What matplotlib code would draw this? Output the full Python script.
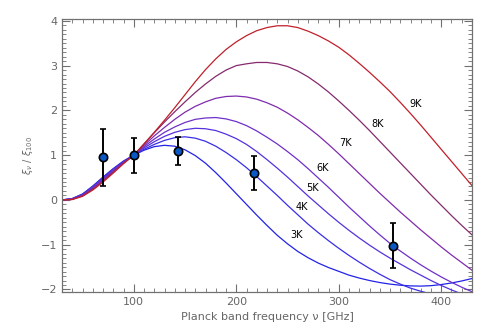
import matplotlib
matplotlib.use("Agg")
import matplotlib.pyplot as plt
from matplotlib.ticker import MultipleLocator

# ---------------- data ----------------
freq = [30, 40, 50, 60, 70, 80, 90, 100, 110, 120, 130, 140, 150, 160, 170, 180,
        190, 200, 210, 220, 230, 240, 250, 260, 270, 280, 290, 300, 310, 320,
        330, 340, 350, 360, 370, 380, 390, 400, 410, 420, 430]

curve_3K = [0.00, 0.03, 0.13, 0.31, 0.51, 0.70, 0.87, 1.00, 1.11, 1.19, 1.22, 1.20, 1.12,
            0.99, 0.82, 0.61, 0.38, 0.14, -0.10, -0.34, -0.57, -0.79, -0.98, -1.15, -1.29,
            -1.41, -1.51, -1.595, -1.68, -1.745, -1.80, -1.845, -1.88, -1.905, -1.92, -1.925,
            -1.915, -1.89, -1.855, -1.81, -1.755]
curve_4K = [0.00, 0.03, 0.13, 0.30, 0.50, 0.69, 0.86, 1.00, 1.13, 1.24, 1.33, 1.39, 1.41,
            1.38, 1.31, 1.20, 1.06, 0.90, 0.72, 0.52, 0.31, 0.10, -0.12, -0.33, -0.54,
            -0.73, -0.91, -1.08, -1.24, -1.39, -1.53, -1.66, -1.78, -1.88, -1.97, -2.04,
            -2.10, -2.15, -2.19, -2.22, -2.24]
curve_5K = [0.00, 0.02, 0.12, 0.29, 0.48, 0.68, 0.85, 1.00, 1.16, 1.30, 1.42, 1.51, 1.57,
            1.60, 1.59, 1.55, 1.47, 1.37, 1.24, 1.08, 0.90, 0.71, 0.51, 0.30, 0.09,
            -0.11, -0.31, -0.50, -0.68, -0.85, -1.01, -1.16, -1.30, -1.43, -1.56, -1.68,
            -1.80, -1.91, -2.01, -2.10, -2.18]
curve_6K = [0.00, 0.02, 0.11, 0.27, 0.46, 0.66, 0.84, 1.00, 1.19, 1.36, 1.51, 1.63, 1.73,
            1.80, 1.83, 1.84, 1.81, 1.75, 1.66, 1.54, 1.40, 1.25, 1.08, 0.90, 0.70,
            0.49, 0.28, 0.06, -0.16, -0.37, -0.58, -0.78, -0.97, -1.14, -1.30, -1.45,
            -1.59, -1.72, -1.84, -1.95, -2.05]
curve_7K = [0.00, 0.02, 0.10, 0.25, 0.44, 0.64, 0.83, 1.00, 1.22, 1.43, 1.62, 1.80, 1.96,
            2.09, 2.19, 2.27, 2.31, 2.32, 2.30, 2.25, 2.17, 2.07, 1.94, 1.79, 1.62,
            1.44, 1.24, 1.03, 0.81, 0.59, 0.37, 0.15, -0.06, -0.27, -0.47, -0.67,
            -0.86, -1.05, -1.23, -1.40, -1.57]
curve_8K = [0.00, 0.01, 0.09, 0.24, 0.42, 0.62, 0.82, 1.00, 1.25, 1.50, 1.74, 1.97, 2.19,
            2.40, 2.59, 2.76, 2.90, 3.00, 3.04, 3.07, 3.07, 3.04, 2.98, 2.88, 2.75,
            2.59, 2.41, 2.21, 2.00, 1.78, 1.55, 1.31, 1.07, 0.83, 0.59, 0.35, 0.11,
            -0.12, -0.35, -0.57, -0.78]
curve_9K = [0.00, 0.01, 0.08, 0.22, 0.40, 0.60, 0.81, 1.00, 1.25, 1.51, 1.78, 2.06, 2.35,
            2.64, 2.91, 3.15, 3.36, 3.53, 3.67, 3.78, 3.85, 3.89, 3.89, 3.85, 3.77,
            3.67, 3.55, 3.41, 3.24, 3.05, 2.85, 2.64, 2.42, 2.18, 1.93, 1.67, 1.40,
            1.13, 0.86, 0.59, 0.32]

curve_labels = ["3K", "4K", "5K", "6K", "7K", "8K", "9K"]

# Planck band measurements
obs_freq = [70, 100, 143, 217, 353]
obs_val = [0.95, 1.00, 1.09, 0.60, -1.02]
obs_err = [0.63, 0.39, 0.32, 0.37, 0.50]

x_ticks = [100, 200, 300, 400]
y_ticks = [-2, -1, 0, 1, 2, 3, 4]

# ---------------- style ----------------
curve_colors = ["#2323e6", "#3a2ee6", "#5532dc", "#6e30c8", "#7f2cae", "#852a6e", "#c0202a"]
label_pos = [(259, -0.78), (264, -0.16), (274, 0.27), (284, 0.71),
             (307, 1.27), (338, 1.70), (375, 2.14)]

plt.rcParams["font.family"] = ["DejaVu Sans"]
fig = plt.figure(figsize=(4.91, 3.31), dpi=100)
ax = fig.add_axes([0.1263, 0.1187, 0.835, 0.8224])

curves = [curve_3K, curve_4K, curve_5K, curve_6K, curve_7K, curve_8K, curve_9K]
for vals, col, lab, pos in zip(curves, curve_colors, curve_labels, label_pos):
    ax.plot(freq, vals, color=col, lw=0.9, solid_joinstyle="round")
    ax.text(pos[0], pos[1], lab, fontsize=7, color="black", ha="center", va="center")

ax.errorbar(obs_freq, obs_val, yerr=obs_err, fmt="o", color="black", ecolor="black",
            elinewidth=1.4, capsize=2.0, capthick=1.0, markersize=6.0,
            markerfacecolor="#0b57c4", markeredgecolor="black", markeredgewidth=1.2,
            zorder=5)

ax.set_xlim(30, 430)
ax.set_ylim(-2.05, 4.03)
ax.set_xticks(x_ticks)
ax.set_yticks(y_ticks)
ax.xaxis.set_minor_locator(MultipleLocator(10))
ax.yaxis.set_minor_locator(MultipleLocator(0.1))

gray = "#707070"
for s in ax.spines.values():
    s.set_color(gray)
    s.set_linewidth(0.9)
ax.tick_params(which="both", direction="in", top=True, right=True, colors=gray,
               labelcolor="#666666", labelsize=8)
ax.tick_params(which="major", length=6, width=0.8)
ax.tick_params(which="minor", length=3, width=0.6)
ax.set_yticklabels(["\u22122", "\u22121", "0", "1", "2", "3", "4"])

ax.set_xlabel("Planck band frequency \u03bd [GHz]", fontsize=8, color="#666666", labelpad=4)
ax.set_ylabel(r"$\xi_\nu\ /\ \xi_{100}$", fontsize=7, color="#666666", labelpad=4)

fig.savefig("out.png", dpi=100)
